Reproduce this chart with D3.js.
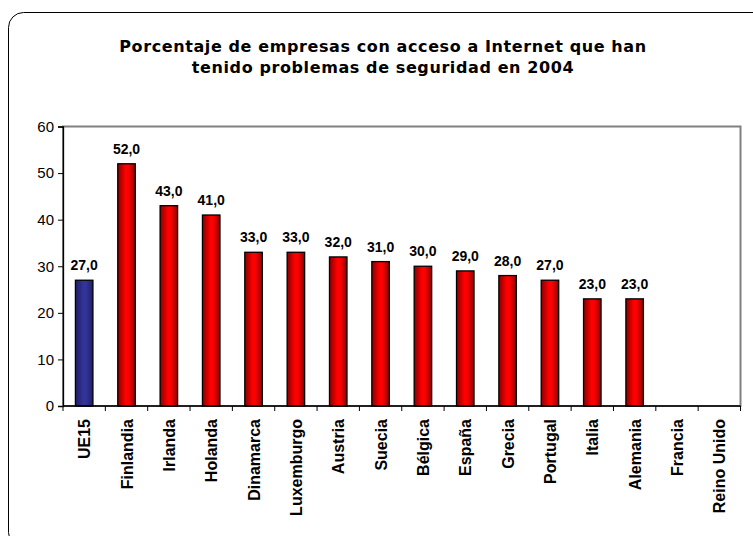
<!DOCTYPE html>
<html><head><meta charset="utf-8">
<script src="https://cdn.jsdelivr.net/npm/d3@7"></script>
<style>body{margin:0;background:#fff}svg{display:block}</style>
</head><body>
<svg id="c" width="753" height="536"></svg>
<script>
const categories = ["UE15","Finlandia","Irlanda","Holanda","Dinamarca","Luxemburgo","Austria","Suecia","Bélgica","España","Grecia","Portugal","Italia","Alemania","Francia","Reino Unido"];
const values = [27,52,43,41,33,33,32,31,30,29,28,27,23,23,null,null];
const yTicks = [0,10,20,30,40,50,60];
const titleLines = ["Porcentaje de empresas con acceso a Internet que han","tenido problemas de seguridad en 2004"];

const svg = d3.select("#c");
const defs = svg.append("defs");
function grad(id, edge, mid){
  const g = defs.append("linearGradient").attr("id", id).attr("x1","0").attr("x2","1").attr("y1","0").attr("y2","0");
  g.append("stop").attr("offset","0%").attr("stop-color", edge);
  g.append("stop").attr("offset","45%").attr("stop-color", mid);
  g.append("stop").attr("offset","60%").attr("stop-color", mid);
  g.append("stop").attr("offset","100%").attr("stop-color", edge);
}
grad("gRed","#8a0000","#ff0000");
grad("gBlue","#1f1f66","#333399");

// outer frame
svg.append("rect").attr("x",8.5).attr("y",12.5).attr("width",760).attr("height",535).attr("rx",15).attr("ry",15)
  .attr("fill","#fff").attr("stroke","#000").attr("stroke-width",1);

const L=63, R=740.5, T=126.5, B=406;
const x = d3.scaleBand().domain(categories).range([L,R]).paddingInner(0).paddingOuter(0);
const y = d3.scaleLinear().domain([0,60]).range([B,T]);

// title
const title = svg.append("text").attr("text-anchor","middle").attr("font-family","DejaVu Sans, Verdana, sans-serif")
  .attr("font-weight","bold").attr("font-size",16).attr("letter-spacing",0.6).attr("fill","#000");
title.selectAll("tspan").data(titleLines).join("tspan").attr("x",383).attr("y",(d,i)=>52+i*21).text(d=>d);

// plot border (gray)
svg.append("rect").attr("x",L).attr("y",T).attr("width",R-L).attr("height",B-T).attr("fill","none")
  .attr("stroke","#808080").attr("stroke-width",2);

// bars
const bw = 17.5;
const data = categories.map((c,i)=>({c, v: values[i], i}));
svg.append("g").selectAll("rect").data(data.filter(d=>d.v!=null)).join("rect")
  .attr("x", d=> x(d.c)+x.bandwidth()/2 - bw/2)
  .attr("y", d=> y(d.v))
  .attr("width", bw)
  .attr("height", d=> y(0)-y(d.v))
  .attr("fill", d=> d.i===0 ? "url(#gBlue)" : "url(#gRed)")
  .attr("stroke","#000").attr("stroke-width",1.3);

// value labels
svg.append("g").selectAll("text").data(data.filter(d=>d.v!=null)).join("text")
  .attr("x", d=> x(d.c)+x.bandwidth()/2)
  .attr("y", d=> y(d.v)-10)
  .attr("text-anchor","middle").attr("font-family","Liberation Sans, Arial, sans-serif")
  .attr("font-weight","bold").attr("font-size",14)
  .text(d=> d3.format(".1f")(d.v).replace(".",","));

// y axis
const ya = svg.append("g").attr("transform",`translate(${L},0)`)
  .call(d3.axisLeft(y).tickValues(yTicks).tickSize(5).tickPadding(4));
ya.select(".domain").attr("stroke","#000").attr("stroke-width",1.3);
ya.selectAll(".tick line").attr("stroke","#000");
ya.selectAll("text").attr("font-family","Liberation Sans, Arial, sans-serif").attr("font-size",15).attr("fill","#000");

// x axis
const bounds = d3.range(categories.length+1).map(i=> L + i*x.bandwidth());
const xa = svg.append("g");
xa.append("line").attr("x1",L).attr("x2",R).attr("y1",B).attr("y2",B).attr("stroke","#000").attr("stroke-width",1.3);
xa.selectAll("line.t").data(bounds).join("line").attr("class","t")
  .attr("x1",d=>d).attr("x2",d=>d).attr("y1",B).attr("y2",B+5).attr("stroke","#000");
xa.selectAll("text").data(categories).join("text")
  .attr("transform", d=>`translate(${x(d)+x.bandwidth()/2+6},${B+13}) rotate(-90)`)
  .attr("text-anchor","end")
  .attr("font-family","Liberation Sans, Arial, sans-serif").attr("font-weight","bold").attr("font-size",16)
  .text(d=>d);
</script>
</body></html>
